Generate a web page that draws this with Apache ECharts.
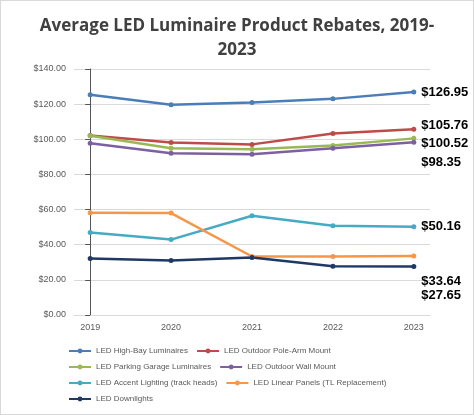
<!DOCTYPE html>
<html><head><meta charset="utf-8">
<script src="https://cdn.jsdelivr.net/npm/echarts@6/dist/echarts.min.js"></script>
<style>html,body{margin:0;padding:0;background:#fff}#c{width:474px;height:415px;box-sizing:border-box;border:1px solid #d9d9d9}</style>
</head><body><div id="c"></div>
<script>
const years = ['2019','2020','2021','2022','2023'];
const seriesNames = ['LED High-Bay Luminaires','LED Outdoor Pole-Arm Mount','LED Parking Garage Luminaires','LED Outdoor Wall Mount','LED Accent Lighting (track heads)','LED Linear Panels (TL Replacement)','LED Downlights'];
const highBay = [125.3, 119.7, 121.0, 123.0, 126.95];
const poleArm = [102.2, 98.2, 97.1, 103.3, 105.76];
const parking = [102.0, 94.9, 94.3, 96.5, 100.52];
const wallMount = [97.7, 92.0, 91.5, 94.9, 98.35];
const accent = [46.9, 42.9, 56.5, 50.8, 50.16];
const linear = [58.2, 58.0, 33.3, 33.3, 33.64];
const downlights = [32.2, 31.0, 32.7, 27.7, 27.65];
const colors = ['#4A7EBB','#BE4B48','#98B954','#7D60A0','#46AAC5','#F79646','#1F3864'];
const labelOffsets = [[0,0],[0,-4],[0,5],[0,20],[0,0],[0,26],[0,29]];
const data = [highBay, poleArm, parking, wallMount, accent, linear, downlights];
const chart = echarts.init(document.getElementById('c'));
chart.setOption({
  animation:false,
  title:{text:'Average LED Luminaire Product Rebates, 2019-\n2023',left:'center',top:8,
    textStyle:{fontFamily:'Open Sans',fontSize:17,fontWeight:'bold',color:'#404040',lineHeight:24}},
  grid:{left:73,right:43,top:68,bottom:99},
  legend:{bottom:6,left:62,width:380,itemWidth:22,itemHeight:6,itemGap:8,
    textStyle:{fontSize:8,color:'#595959',width:160,fontFamily:'Liberation Sans'},
    data:seriesNames},
  xAxis:{type:'value',min:-0.2,max:4.2,
    axisLine:{show:true,lineStyle:{color:'#d9d9d9'}},axisTick:{show:false},splitLine:{show:false},
    axisLabel:{color:'#595959',fontSize:9,customValues:[0,1,2,3,4],formatter:v=>years[Math.round(v)]}},
  yAxis:{type:'value',min:0,max:140,interval:20,
    axisLabel:{color:'#595959',fontSize:9,formatter:v=>'$'+v.toFixed(2)},
    splitLine:{lineStyle:{color:'#d9d9d9'}}},
  series:data.map((d,i)=>({
    name:seriesNames[i],type:'line',data:d.map((v,j)=>[j,v]),color:colors[i],
    symbol:'circle',symbolSize:5,lineStyle:{width:2.5},
    label:{show:true,position:'right',offset:labelOffsets[i],fontSize:13,fontWeight:'bold',color:'#000',
      formatter:p=>p.dataIndex===4?'$'+p.value[1].toFixed(2):''}
  }))
});
</script></body></html>
